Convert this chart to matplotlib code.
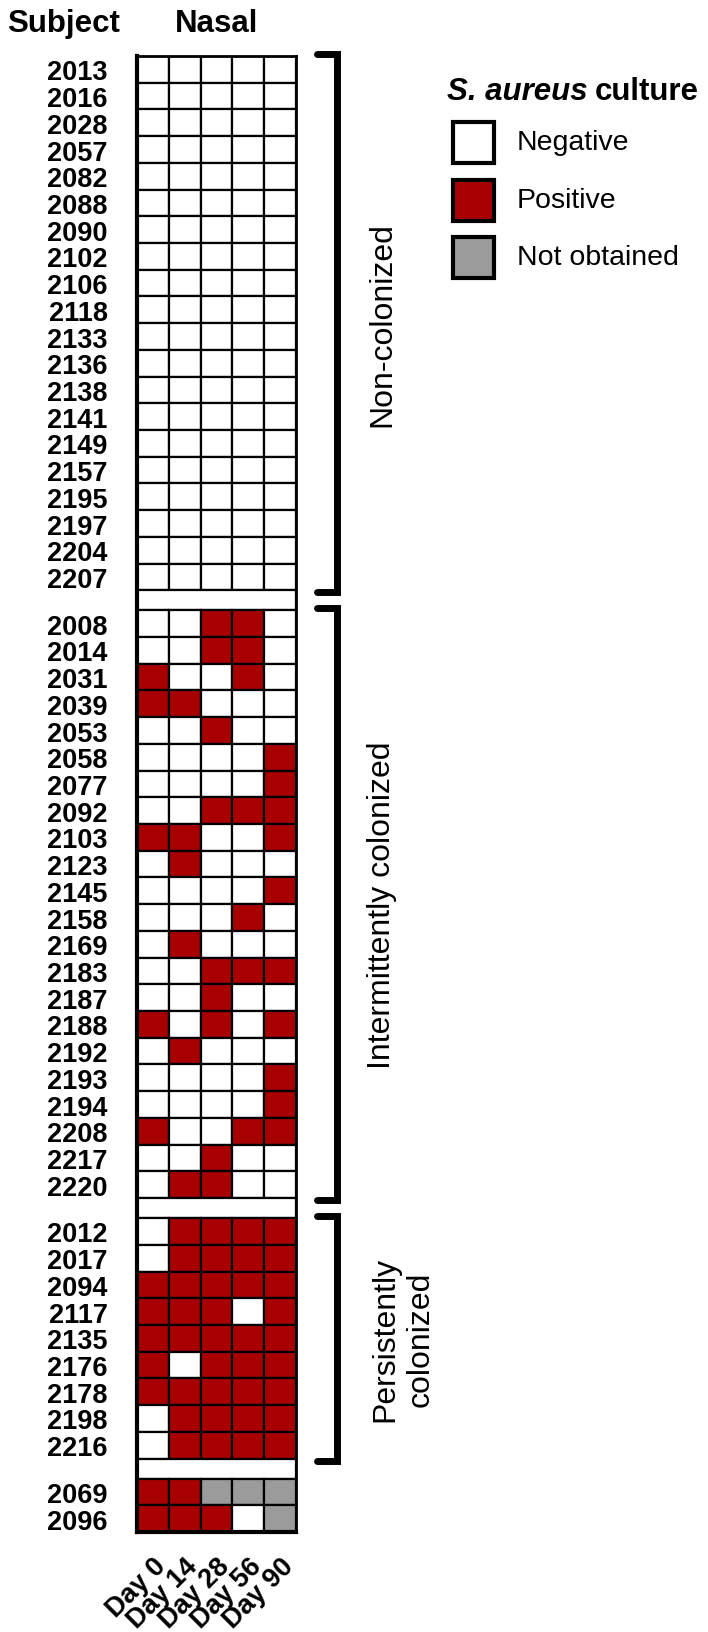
import matplotlib
matplotlib.use("Agg")
import matplotlib.pyplot as plt
from matplotlib.patches import Rectangle

plt.rcParams['font.family'] = ['Liberation Sans', 'DejaVu Sans']

# culture result per subject and visit: 0 negative, 1 positive, 2 not obtained
days = ["Day 0", "Day 14", "Day 28", "Day 56", "Day 90"]

non_colonized_ids = ["2013", "2016", "2028", "2057", "2082", "2088", "2090", "2102", "2106", "2118",
                     "2133", "2136", "2138", "2141", "2149", "2157", "2195", "2197", "2204", "2207"]
non_colonized = [[0, 0, 0, 0, 0]] * 20

intermittent_ids = ["2008", "2014", "2031", "2039", "2053", "2058", "2077", "2092", "2103", "2123", "2145",
                    "2158", "2169", "2183", "2187", "2188", "2192", "2193", "2194", "2208", "2217", "2220"]
intermittent = [
    [0, 0, 1, 1, 0],
    [0, 0, 1, 1, 0],
    [1, 0, 0, 1, 0],
    [1, 1, 0, 0, 0],
    [0, 0, 1, 0, 0],
    [0, 0, 0, 0, 1],
    [0, 0, 0, 0, 1],
    [0, 0, 1, 1, 1],
    [1, 1, 0, 0, 1],
    [0, 1, 0, 0, 0],
    [0, 0, 0, 0, 1],
    [0, 0, 0, 1, 0],
    [0, 1, 0, 0, 0],
    [0, 0, 1, 1, 1],
    [0, 0, 1, 0, 0],
    [1, 0, 1, 0, 1],
    [0, 1, 0, 0, 0],
    [0, 0, 0, 0, 1],
    [0, 0, 0, 0, 1],
    [1, 0, 0, 1, 1],
    [0, 0, 1, 0, 0],
    [0, 1, 1, 0, 0],
]

persistent_ids = ["2012", "2017", "2094", "2117", "2135", "2176", "2178", "2198", "2216"]
persistent = [
    [0, 1, 1, 1, 1],
    [0, 1, 1, 1, 1],
    [1, 1, 1, 1, 1],
    [1, 1, 1, 0, 1],
    [1, 1, 1, 1, 1],
    [1, 0, 1, 1, 1],
    [1, 1, 1, 1, 1],
    [0, 1, 1, 1, 1],
    [0, 1, 1, 1, 1],
]

other_ids = ["2069", "2096"]
other = [
    [1, 1, 2, 2, 2],
    [1, 1, 1, 0, 2],
]

group_names = ["Non-colonized", "Intermittently colonized", "Persistently\ncolonized", None]
groups = [(non_colonized_ids, non_colonized), (intermittent_ids, intermittent),
          (persistent_ids, persistent), (other_ids, other)]

status_names = ["Negative", "Positive", "Not obtained"]
colors = ["white", "#A80000", "#9B9B9B"]

GAP = 0.75
W, H = 708, 1633
fig = plt.figure(figsize=(W / 100, H / 100), dpi=100)
gl, gr, gt, gb = 137, 296, 57, 1533
ax = fig.add_axes([gl / W, 1 - gb / H, (gr - gl) / W, (gb - gt) / H])

y = 0
ticks, tick_labels, spans = [], [], []
for gi, (ids, vals) in enumerate(groups):
    start = y
    for sid, row in zip(ids, vals):
        for j, v in enumerate(row):
            ax.add_patch(Rectangle((j, y), 1, 1, facecolor=colors[v], edgecolor="black", lw=1.6))
        ticks.append(y + 0.5)
        tick_labels.append(sid)
        y += 1
    spans.append((start, y))
    if gi < len(groups) - 1:
        ax.add_patch(Rectangle((0, y), len(days), GAP, facecolor="white", edgecolor="black", lw=1.6))
        y += GAP

ax.set_xlim(0, len(days))
ax.set_ylim(y, 0)
ax.set_yticks(ticks)
ax.set_yticklabels(tick_labels, fontsize=19.5, fontweight="bold")
ax.set_xticks([i + 0.5 for i in range(len(days))])
ax.set_xticklabels(days, fontsize=19.5, fontweight="bold", rotation=45, ha="right",
                   rotation_mode="anchor")
ax.tick_params(axis="y", length=0, pad=21)
ax.tick_params(axis="x", length=0, pad=15)
for side in ["left", "bottom"]:
    ax.spines[side].set_linewidth(3)
for side in ["top", "right"]:
    ax.spines[side].set_linewidth(2)

# brackets for colonization groups
colw = (gr - gl) / len(days)
bx = (337 - gl) / colw
tx = (317 - gl) / colw
for name, (s, e) in zip(group_names, spans):
    if name is None:
        continue
    ax.plot([tx, bx, bx, tx], [s - 0.08, s - 0.08, e + 0.08, e + 0.08], color="black", lw=5,
            solid_capstyle="round", solid_joinstyle="miter", clip_on=False)
    lx = (403 - gl) / colw if "\n" in name else (382 - gl) / colw
    ax.text(lx, (s + e) / 2, name, rotation=90, ha="center", va="center", fontsize=23,
            linespacing=1.25, clip_on=False)

# headers
fig.text(7 / W, 1 - 32 / H, "Subject", fontsize=22.5, fontweight="bold", va="baseline")
fig.text((gl + gr) / 2 / W, 1 - 32 / H, "Nasal", fontsize=22.5, fontweight="bold",
         ha="center", va="baseline")

# legend
t1 = fig.text(447 / W, 1 - 100 / H, "S. aureus", fontsize=22.5, fontweight="bold",
              style="italic", va="baseline")
fig.canvas.draw()
bb = t1.get_window_extent(fig.canvas.get_renderer())
fig.text(bb.x1 / W + 7 / W, 1 - 100 / H, "culture", fontsize=22.5, fontweight="bold",
         va="baseline")
for k, (name, c) in enumerate(zip(status_names, colors)):
    cy = 143 + k * 57.5
    fig.add_artist(Rectangle((453 / W, 1 - (cy + 21) / H), 41 / W, 41 / H, facecolor=c,
                             edgecolor="black", lw=3, transform=fig.transFigure))
    fig.text(517 / W, 1 - cy / H, name, fontsize=20.5, va="center")

fig.savefig("out.png", dpi=100)
